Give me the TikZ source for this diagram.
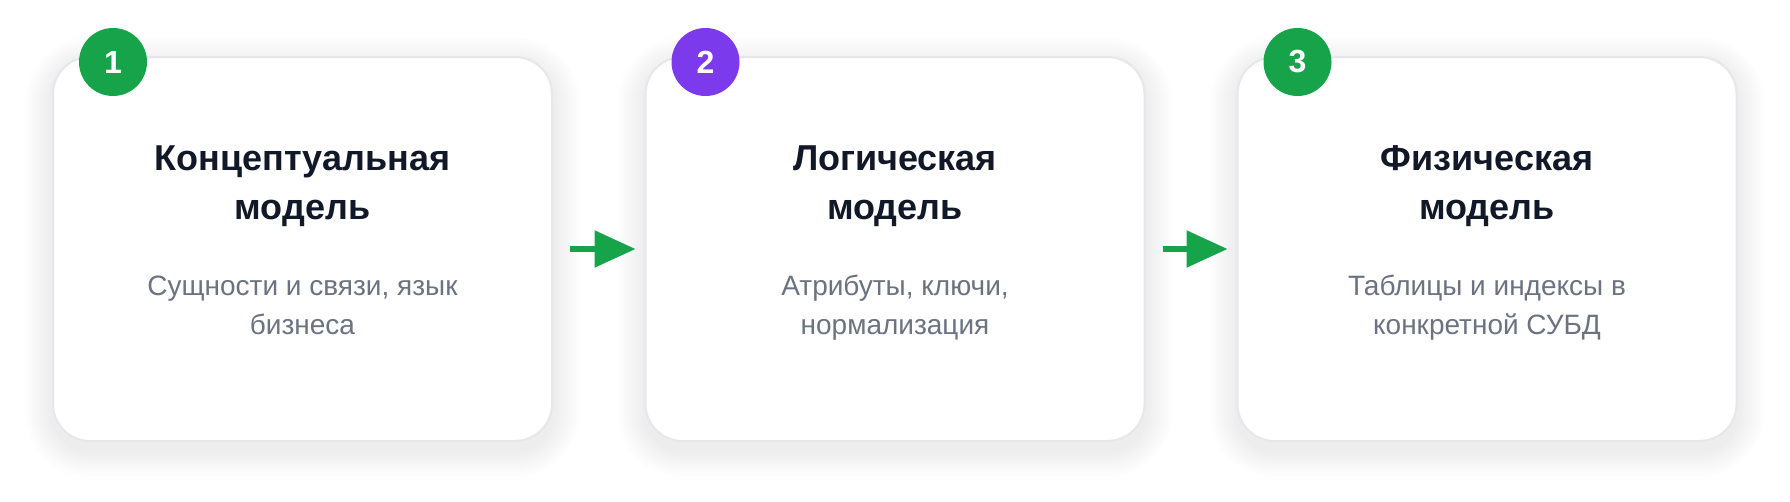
\documentclass[tikz,border=0pt]{standalone}
\usepackage{fontspec}
\setmainfont{Liberation Sans}
\usetikzlibrary{arrows.meta,backgrounds}
\definecolor{cardborder}{HTML}{E5E7EB}
\definecolor{titlecol}{HTML}{111827}
\definecolor{subcol}{HTML}{6B7280}
\definecolor{greenc}{HTML}{16A34A}
\definecolor{purplec}{HTML}{7C3AED}
\definecolor{shadowc}{HTML}{1F2937}
\tikzset{
  card/.style={draw=cardborder, line width=2pt, fill=white, rounded corners=37pt,
    minimum width=499pt, minimum height=384pt, inner sep=0pt},
  shadowlayer/.style={fill=shadowc, opacity=0.0035},
  badge/.style={circle, minimum size=68pt, inner sep=0pt, text=white,
    font=\fontsize{32}{32}\selectfont\bfseries},
  titletext/.style={anchor=base, inner sep=0pt, text=titlecol,
    font=\fontsize{36}{36}\selectfont\bfseries},
  subtext/.style={anchor=base, inner sep=0pt, text=subcol,
    font=\fontsize{28}{28}\selectfont},
  flow/.style={draw=greenc, line width=5.5pt,
    -{Triangle[length=41pt, width=36pt]}, shorten <=17pt, shorten >=9pt},
}
\begin{document}
\begin{tikzpicture}[x=1pt,y=-1pt]
\useasboundingbox (0,0) rectangle (1790,501);
% cards
\node[card] (c1) at (302.5,249) {};
\node[card] (c2) at (895,249) {};
\node[card] (c3) at (1487,249) {};
% soft shadows behind the cards
\begin{pgfonlayer}{background}
\fill[white] (0,0) rectangle (1790,501);
\foreach \c in {c1,c2,c3}{
  \foreach \i [evaluate=\i as \d using 1.5*\i, evaluate=\i as \r using 37+1.5*\i] in {1,...,18}{
    \fill[shadowlayer, rounded corners=\r pt]
      ([shift={(-\d,-\d+8)}]\c.north west) rectangle ([shift={(\d,\d+8)}]\c.south east);
  }
}
\end{pgfonlayer}
% badges
\node[badge, fill=greenc] (b1) at (113,62) {1};
\node[badge, fill=purplec] (b2) at (705.5,62) {2};
\node[badge, fill=greenc] (b3) at (1297.5,62) {3};
% card 1 texts
\node[titletext] (t1a) at (302.5,170) {Концептуальная};
\node[titletext] (t1b) at (302.5,219) {модель};
\node[subtext] (s1a) at (302.5,295) {Сущности и связи, язык};
\node[subtext] (s1b) at (302.5,334) {бизнеса};
% card 2 texts
\node[titletext] (t2a) at (895,170) {Логическая};
\node[titletext] (t2b) at (895,219) {модель};
\node[subtext] (s2a) at (895,295) {Атрибуты, ключи,};
\node[subtext] (s2b) at (895,334) {нормализация};
% card 3 texts
\node[titletext] (t3a) at (1487,170) {Физическая};
\node[titletext] (t3b) at (1487,219) {модель};
\node[subtext] (s3a) at (1487,295) {Таблицы и индексы в};
\node[subtext] (s3b) at (1487,334) {конкретной СУБД};
% arrows
\draw[flow] (c1.east) -- (c2.west);
\draw[flow] (c2.east) -- (c3.west);
\end{tikzpicture}
\end{document}
